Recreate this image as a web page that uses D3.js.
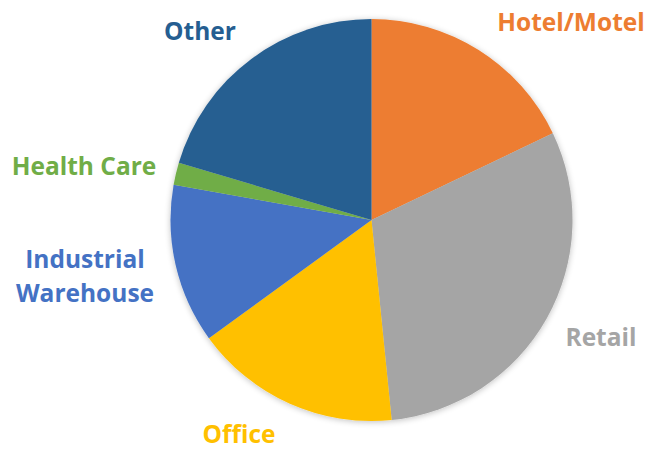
<!DOCTYPE html>
<html>
<head>
<meta charset="utf-8">
<script src="https://cdn.jsdelivr.net/npm/d3@7"></script>
<style>
  body { margin: 0; background: #fff; }
  svg text { font-family: "Open Sans", "DejaVu Sans", sans-serif; font-weight: bold; }
</style>
</head>
<body>
<svg id="chart" width="650" height="451"></svg>
<script>
// data
const categories = ['Hotel/Motel', 'Retail', 'Office', 'Industrial Warehouse', 'Health Care', 'Other'];
const shares = [17.9, 30.5, 16.6, 12.8, 1.8, 20.4];
const colors = ['#ED7D31', '#A5A5A5', '#FFC000', '#4472C4', '#70AD47', '#255E91'];

// label placement (centre x, first baseline y)
const labelPos = [[571, 31], [601, 346], [239, 443], [85, 268], [84, 175], [200, 40]];

const width = 650, height = 451;
const cx = 371.5, cy = 220, radius = 201;

const svg = d3.select('#chart');

// soft shadow like the office chart
const defs = svg.append('defs');
const f = defs.append('filter').attr('id', 'shadow')
    .attr('x', '-10%').attr('y', '-10%').attr('width', '120%').attr('height', '120%');
f.append('feGaussianBlur').attr('in', 'SourceAlpha').attr('stdDeviation', 3);
f.append('feOffset').attr('dx', 0).attr('dy', 1).attr('result', 'b');
f.append('feComponentTransfer').append('feFuncA').attr('type', 'linear').attr('slope', 0.25);
const merge = f.append('feMerge');
merge.append('feMergeNode');
merge.append('feMergeNode').attr('in', 'SourceGraphic');

const data = categories.map((c, i) => ({ name: c, value: shares[i], color: colors[i], pos: labelPos[i] }));

const pie = d3.pie().value(d => d.value).sort(null);
const arc = d3.arc().innerRadius(0).outerRadius(radius);

const g = svg.append('g')
    .attr('transform', `translate(${cx},${cy})`)
    .attr('filter', 'url(#shadow)');

g.selectAll('path')
    .data(pie(data))
    .enter().append('path')
    .attr('d', arc)
    .style('fill', d => d.data.color);

// labels
const label = svg.selectAll('.label')
    .data(data)
    .enter().append('text')
    .attr('class', 'label')
    .attr('text-anchor', 'middle')
    .attr('x', d => d.pos[0])
    .attr('y', d => d.pos[1])
    .style('font-size', '24.5px')
    .style('fill', d => d.color);

label.each(function(d) {
    const words = d.name === 'Industrial Warehouse' ? ['Industrial', 'Warehouse'] : [d.name];
    const t = d3.select(this);
    words.forEach((w, i) => {
        t.append('tspan')
            .attr('x', d.pos[0])
            .attr('dy', i === 0 ? 0 : 34)
            .text(w);
    });
});
</script>
</body>
</html>
